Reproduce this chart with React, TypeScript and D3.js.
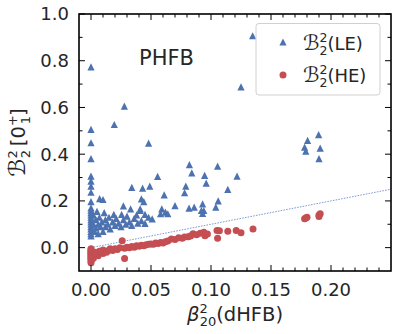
import React from 'react';
import * as d3 from 'd3';

const W = 397;
const H = 334;

// B_2^2(LE) values: [beta20^2, B]
const leData: [number, number][] = [
  [0, 0.774], [0.1347, 0.907], [0.125, 0.688], [0.0278, 0.606], [0.0194, 0.527], [0, 0.506],
  [0, 0.449], [0.048, 0.447], [0, 0.381], [0.082, 0.355], [0.1055, 0.349], [0.1897, 0.484],
  [0.1805, 0.459], [0.178, 0.43], [0.179, 0.413], [0.191, 0.426], [0.19, 0.381],
  [0.0947, 0.309], [0.096, 0.276], [0.1217, 0.306], [0.114, 0.249], [0.084, 0.32], [0.0555, 0.305],
  [0.093, 0.187], [0.094, 0.159], [0.093, 0.147], [0.106, 0.2], [0.104, 0.173],
  [0.079, 0.263], [0.078, 0.235], [0.061, 0.226], [0.07, 0.18], [0.0817, 0.169], [0.086, 0.173], [0.092, 0.159],
  [0.043, 0.255], [0.049, 0.263], [0.034, 0.258], [0.042, 0.209], [0.044, 0.197], [0.0072, 0.21], [0.01, 0.206],
  [0.027, 0.179], [0.033, 0.166], [0.041, 0.159], [0.019, 0.142], [0.0255, 0.142],
  [0.059, 0.166], [0.062, 0.152], [0.058, 0.145], [0.064, 0.145], [0.041, 0.166], [0.045, 0.142],
  [0.048, 0.13], [0.051, 0.123], [0.042, 0.116], [0.045, 0.104],
  [0, 0.306], [0, 0.285], [0, 0.263], [0, 0.237], [0, 0.197], [0, 0.17], [0, 0.16], [0, 0.15],
  [0, 0.14], [0, 0.13], [0, 0.12], [0, 0.11], [0, 0.1], [0, 0.09], [0, 0.08], [0, 0.07], [0, 0.06], [0, 0.05],
  [0.002, 0.14], [0.002, 0.1], [0.003, 0.07], [0.004, 0.12], [0.004, 0.085], [0.005, 0.155], [0.006, 0.1],
  [0.006, 0.06], [0.007, 0.13], [0.008, 0.09], [0.009, 0.11], [0.01, 0.07], [0.011, 0.15], [0.012, 0.12],
  [0.012, 0.09], [0.014, 0.1], [0.015, 0.13], [0.016, 0.08], [0.018, 0.11], [0.02, 0.095], [0.021, 0.125],
  [0.023, 0.105], [0.025, 0.09], [0.027, 0.12], [0.029, 0.1], [0.03, 0.135], [0.032, 0.11], [0.034, 0.095],
  [0.036, 0.125], [0.038, 0.14], [0.039, 0.105],
];

// B_2^2(HE) values: [beta20^2, B]
const heData: [number, number][] = [
  [0, -0.065], [0, -0.058], [0, -0.05], [0, -0.045], [0, -0.04], [0, -0.035], [0, -0.03], [0, -0.025],
  [0, -0.02], [0, -0.015], [0, -0.01], [0, -0.005],
  [0.002, -0.045], [0.003, -0.02], [0.004, -0.03], [0.005, -0.025], [0.006, -0.035], [0.007, -0.015],
  [0.008, -0.02], [0.01, -0.025], [0.01, -0.01], [0.012, -0.015], [0.013, -0.02], [0.015, -0.01],
  [0.016, -0.005], [0.018, -0.012], [0.02, -0.005], [0.022, -0.008], [0.024, 0.0], [0.026, 0.03],
  [0.028, -0.046], [0.028, -0.003], [0.03, 0.002], [0.032, 0.0], [0.034, 0.005], [0.036, 0.002],
  [0.038, 0.008], [0.04, 0.006], [0.042, 0.01], [0.044, 0.008], [0.046, 0.012], [0.048, 0.015],
  [0.05, 0.016], [0.052, 0.014], [0.054, 0.02], [0.056, 0.018], [0.058, 0.022], [0.06, 0.02],
  [0.062, 0.025], [0.064, 0.028], [0.067, 0.037], [0.07, 0.035], [0.073, 0.042], [0.076, 0.04],
  [0.078, 0.045], [0.081, 0.047], [0.083, 0.05], [0.085, 0.059], [0.088, 0.055], [0.091, 0.062],
  [0.094, 0.066], [0.095, 0.051], [0.097, 0.058], [0.105, 0.073], [0.107, 0.072], [0.1055, 0.04],
  [0.114, 0.07], [0.121, 0.073], [0.125, 0.064], [0.135, 0.08], [0.179, 0.127], [0.18, 0.13],
  [0.178, 0.124], [0.19, 0.133], [0.191, 0.145], [0.19, 0.14],
];

// reference line y = x
const refLine: [number, number][] = [[0, 0], [0.25, 0.25]];

const xMajor = [0, 0.05, 0.1, 0.15, 0.2];
const xMajorLabels = ['0.00', '0.05', '0.10', '0.15', '0.20'];
const yMajor = [0, 0.2, 0.4, 0.6, 0.8, 1.0];
const yMajorLabels = ['0.0', '0.2', '0.4', '0.6', '0.8', '1.0'];
const xMinor = d3.range(1, 25).map((i) => i / 100).filter((v) => !xMajor.some((m) => Math.abs(m - v) < 1e-9));
const yMinor = [0.1, 0.3, 0.5, 0.7, 0.9];

const BLUE = '#4c72b0';
const RED = '#c44e52';
const TEXT = '#262626';
const FONT = 'DejaVu Sans, sans-serif';

const L = 79, R = 391, T = 14, B = 271;

function tri(cx: number, cy: number, s: number) {
  const h = s / 2;
  return `M${cx},${cy - h}L${cx + h},${cy + h}L${cx - h},${cy + h}Z`;
}

export default function App() {
  const x = d3.scaleLinear().domain([-0.01, 0.25]).range([L, R]);
  const y = d3.scaleLinear().domain([-0.1, 1.0]).range([B, T]);
  const line = d3.line<[number, number]>().x((d) => x(d[0])).y((d) => y(d[1]));
  const majLen = 6, minLen = 3.5;

  return (
    <svg width={W} height={H} style={{ position: 'absolute', left: 0, top: 0, background: '#fff' }} fontFamily={FONT}>
      <defs>
        <clipPath id="plot"><rect x={L} y={T} width={R - L} height={B - T} /></clipPath>
      </defs>
      <g clipPath="url(#plot)">
        <path d={line(refLine) || ''} stroke="#7f9bd3" strokeWidth={1} strokeDasharray="1.6,1.2" fill="none" />
        {leData.map((d, i) => (
          <path key={'le' + i} d={tri(x(d[0]), y(d[1]), 7.2)} fill={BLUE} />
        ))}
        {heData.map((d, i) => (
          <circle key={'he' + i} cx={x(d[0])} cy={y(d[1])} r={3.5} fill={RED} />
        ))}
      </g>
      {/* ticks */}
      <g stroke="#000" strokeWidth={1}>
        {xMajor.map((v) => (
          <g key={'xM' + v}>
            <line x1={x(v)} x2={x(v)} y1={B} y2={B - majLen} />
            <line x1={x(v)} x2={x(v)} y1={T} y2={T + majLen} />
          </g>
        ))}
        {xMinor.map((v) => (
          <g key={'xm' + v}>
            <line x1={x(v)} x2={x(v)} y1={B} y2={B - minLen} />
            <line x1={x(v)} x2={x(v)} y1={T} y2={T + minLen} />
          </g>
        ))}
        {yMajor.map((v) => (
          <g key={'yM' + v}>
            <line x1={L} x2={L + majLen} y1={y(v)} y2={y(v)} />
            <line x1={R} x2={R - majLen} y1={y(v)} y2={y(v)} />
          </g>
        ))}
        {yMinor.map((v) => (
          <g key={'ym' + v}>
            <line x1={L} x2={L + minLen} y1={y(v)} y2={y(v)} />
            <line x1={R} x2={R - minLen} y1={y(v)} y2={y(v)} />
          </g>
        ))}
      </g>
      <rect x={L} y={T} width={R - L} height={B - T} fill="none" stroke="#000" strokeWidth={1.6} />
      {/* tick labels */}
      {xMajor.map((v, i) => (
        <text key={'xl' + v} x={x(v)} y={296} textAnchor="middle" fontSize={18} fill={TEXT}>{xMajorLabels[i]}</text>
      ))}
      {yMajor.map((v, i) => (
        <text key={'yl' + v} x={69} y={y(v)} dy="0.36em" textAnchor="end" fontSize={18} fill={TEXT}>{yMajorLabels[i]}</text>
      ))}
      {/* x label */}
      <text x={235} y={321} textAnchor="middle" fontSize={19.5} fill={TEXT}>
        <tspan fontStyle="italic">β</tspan>
        <tspan dy={-8} fontSize={13}>2</tspan>
        <tspan dx={-8} dy={13} fontSize={13}>20</tspan>
        <tspan dy={-5}>(dHFB)</tspan>
      </text>
      {/* y label */}
      <text transform={`translate(25,${(T + B) / 2}) rotate(-90)`} textAnchor="middle" fontSize={19.5} fill={TEXT}>
        <tspan fontSize={23}>ℬ</tspan>
        <tspan dy={-8} fontSize={13}>2</tspan>
        <tspan dx={-8} dy={13} fontSize={13}>2</tspan>
        <tspan dy={-5}>{'\u2009[0'}</tspan>
        <tspan dy={-8} fontSize={13}>+</tspan>
        <tspan dx={-9} dy={13} fontSize={13}>1</tspan>
        <tspan dy={-5}>]</tspan>
      </text>
      {/* PHFB */}
      <text x={139} y={65} fontSize={21} fill={TEXT}>PHFB</text>
      {/* legend */}
      <rect x={256} y={23.5} width={124} height={71.5} rx={3} fill="#fff" fillOpacity={0.8} stroke="#d0d0d0" strokeWidth={1} />
      <path d={tri(283, 42, 7.2)} fill={BLUE} />
      <circle cx={283} cy={75} r={3.5} fill={RED} />
      <text x={303} y={50} fontSize={18} fill={TEXT}>
        <tspan fontSize={21}>ℬ</tspan>
        <tspan dy={-8} fontSize={12.5}>2</tspan>
        <tspan dx={-8} dy={13} fontSize={12.5}>2</tspan>
        <tspan dy={-5}>(LE)</tspan>
      </text>
      <text x={303} y={82} fontSize={18} fill={TEXT}>
        <tspan fontSize={21}>ℬ</tspan>
        <tspan dy={-8} fontSize={12.5}>2</tspan>
        <tspan dx={-8} dy={13} fontSize={12.5}>2</tspan>
        <tspan dy={-5}>(HE)</tspan>
      </text>
    </svg>
  );
}
